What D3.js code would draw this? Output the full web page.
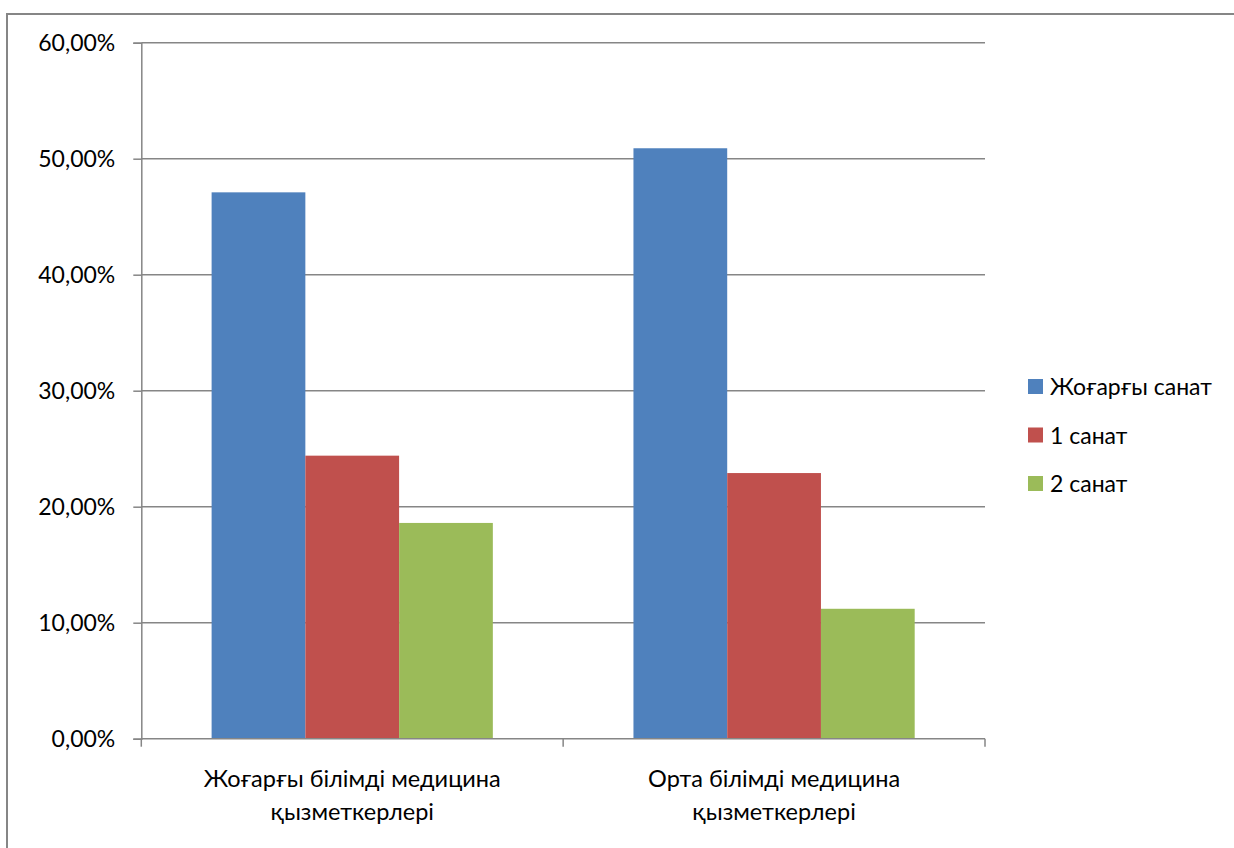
<!DOCTYPE html>
<html>
<head>
<meta charset="utf-8">
<script src="https://cdn.jsdelivr.net/npm/d3@7"></script>
<style>
  html, body { margin: 0; padding: 0; background: #fff; }
  svg { display: block; }
  text { font-family: Lato, "Open Sans", sans-serif; fill: #000; }
</style>
</head>
<body>
<svg id="chart" width="1234" height="848"></svg>
<script>
// Categories (two lines each) and series
const categories = [
  ["Жоғарғы білімді медицина", "қызметкерлері"],
  ["Орта білімді медицина", "қызметкерлері"]
];
const seriesNames = ["Жоғарғы санат", "1 санат", "2 санат"];
const seriesColors = ["#4F81BD", "#C0504D", "#9BBB59"];
// Share of staff per category, in percent
const topCategory = [47.1, 50.9];
const firstCategory = [24.4, 22.9];
const secondCategory = [18.6, 11.2];
const seriesValues = [topCategory, firstCategory, secondCategory];
const yTicks = [0, 10, 20, 30, 40, 50, 60];

const svg = d3.select("#chart");
const axisColor = "#868686";

// Outer chart frame
svg.append("rect")
  .attr("x", 7).attr("y", 14)
  .attr("width", 1240).attr("height", 850)
  .attr("fill", "none").attr("stroke", axisColor).attr("stroke-width", 2);

const plot = { left: 141.3, right: 985, top: 42.7, bottom: 738.7 };

const y = d3.scaleLinear().domain([0, 60]).range([plot.bottom, plot.top]);
const x0 = d3.scaleBand().domain(d3.range(categories.length))
  .range([plot.left, plot.right]).paddingInner(0).paddingOuter(0);
// gap width 150%: band = 3 bars + 1.5 bars of gap
const x1 = d3.scaleBand().domain(d3.range(seriesNames.length))
  .range([0, x0.bandwidth()]).paddingInner(0).paddingOuter(0.75);

// Gridlines
svg.append("g").selectAll("line")
  .data(yTicks.filter(t => t > 0))
  .join("line")
  .attr("x1", plot.left).attr("x2", plot.right)
  .attr("y1", d => y(d)).attr("y2", d => y(d))
  .attr("stroke", axisColor).attr("stroke-width", 1.5);

// Bars
const groups = svg.append("g").selectAll("g")
  .data(categories.map((c, i) => i))
  .join("g")
  .attr("transform", i => `translate(${x0(i)},0)`);
groups.selectAll("rect")
  .data(i => seriesValues.map((vals, s) => ({ s, v: vals[i] })))
  .join("rect")
  .attr("x", d => x1(d.s))
  .attr("width", x1.bandwidth())
  .attr("y", d => y(d.v))
  .attr("height", d => y(0) - y(d.v))
  .attr("fill", d => seriesColors[d.s]);

// Y axis
const yAxis = d3.axisLeft(y).tickValues(yTicks).tickSize(8).tickPadding(18)
  .tickFormat(d => d3.format(".2f")(d).replace(".", ",") + "%");
const gy = svg.append("g").attr("transform", `translate(${plot.left},0)`).call(yAxis);
gy.select(".domain").attr("stroke", axisColor).attr("stroke-width", 1.5);
gy.selectAll(".tick line").attr("stroke", axisColor).attr("stroke-width", 1.5);
gy.selectAll(".tick text").style("font-size", "23px").attr("fill", "#000");

// X axis: category boundary ticks
const xAxisG = svg.append("g");
xAxisG.append("line")
  .attr("x1", plot.left).attr("x2", plot.right)
  .attr("y1", y(0)).attr("y2", y(0))
  .attr("stroke", axisColor).attr("stroke-width", 1.5);
const bounds = categories.map((c, i) => x0(i)).concat([x0(categories.length - 1) + x0.bandwidth()]);
xAxisG.selectAll("line.tk").data(bounds).join("line").attr("class", "tk")
  .attr("x1", d => d).attr("x2", d => d)
  .attr("y1", y(0)).attr("y2", y(0) + 8)
  .attr("stroke", axisColor).attr("stroke-width", 1.5);

// Category labels
const catLabels = svg.append("g").selectAll("text")
  .data(categories)
  .join("text")
  .attr("text-anchor", "middle")
  .style("font-size", "23.5px")
  .attr("transform", (c, i) => `translate(${x0(i) + x0.bandwidth() / 2},${y(0) + 48})`);
catLabels.selectAll("tspan")
  .data(c => c)
  .join("tspan")
  .attr("x", 0)
  .attr("dy", (d, j) => j === 0 ? 0 : 33)
  .text(d => d);

// Legend
const legend = svg.append("g").attr("transform", "translate(1028,379)");
const items = legend.selectAll("g")
  .data(seriesNames)
  .join("g")
  .attr("transform", (d, i) => `translate(0,${i * 48.5})`);
items.append("rect")
  .attr("width", 15).attr("height", 15)
  .attr("fill", (d, i) => seriesColors[i]);
items.append("text")
  .attr("x", 22).attr("y", 16)
  .style("font-size", "23px")
  .text(d => d);
</script>
</body>
</html>
